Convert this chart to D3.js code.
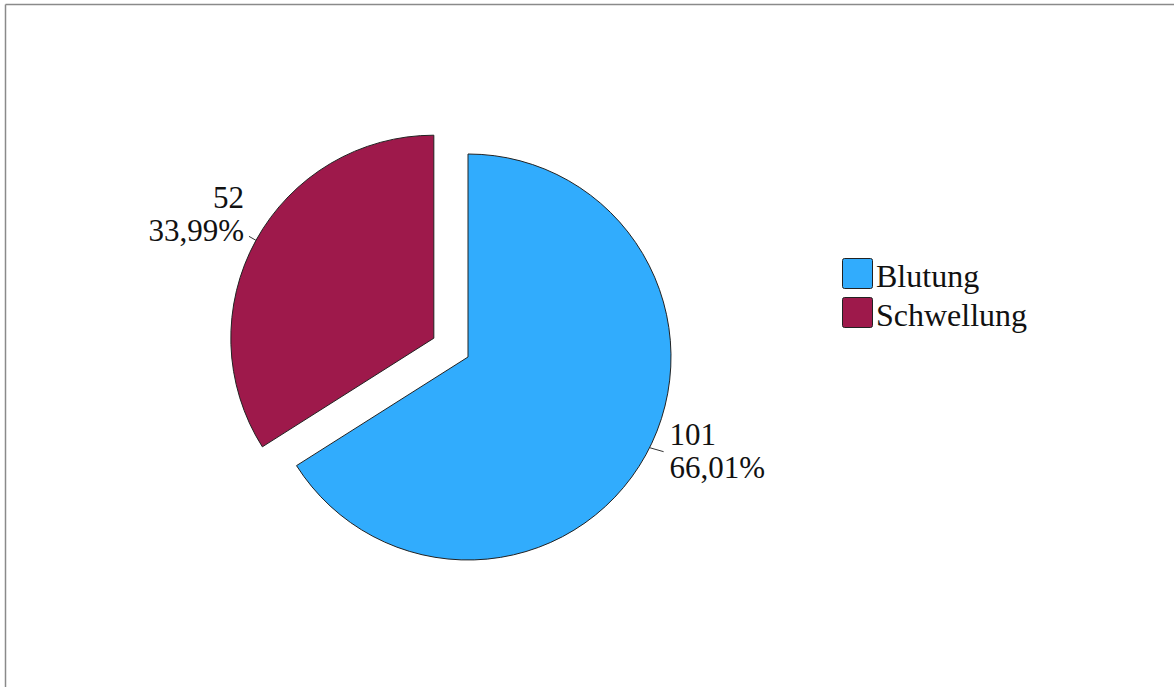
<!DOCTYPE html>
<html>
<head>
<meta charset="utf-8">
<script src="https://cdn.jsdelivr.net/npm/d3@7"></script>
<style>
  html, body { margin: 0; padding: 0; background: #fff; }
  svg { display: block; }
  text { font-family: "Liberation Serif", "Times New Roman", serif; fill: #111; }
</style>
</head>
<body>
<svg id="chart" width="1174" height="687"></svg>
<script>
// Categories and counts
const categories = ["Blutung", "Schwellung"];
const counts = [101, 52];
const percentLabels = ["66,01%", "33,99%"];
const colors = ["#31acfd", "#9e194b"];
// Slice pulled out of the pie
const explodedIndex = 1;

const svg = d3.select("#chart");
const W = 1174, H = 687;

// Frame lines (top and left)
svg.append("line").attr("x1", 5.5).attr("x2", W).attr("y1", 4.5).attr("y2", 4.5)
  .attr("stroke", "#8a8a8a").attr("stroke-width", 1.5);
svg.append("line").attr("x1", 5.5).attr("x2", 5.5).attr("y1", 4.5).attr("y2", H)
  .attr("stroke", "#8a8a8a").attr("stroke-width", 1.5);

const cx = 468, cy = 357, R = 203, explode = 39;
const fontSize = 31;
const lineGap = 33;

const pie = d3.pie().sort(null).value(d => d.value);
const data = categories.map((c, i) => ({ name: c, value: counts[i], pct: percentLabels[i], color: colors[i], idx: i }));
const arcs = pie(data);
const arc = d3.arc().innerRadius(0).outerRadius(R);

const g = svg.append("g");

arcs.forEach(a => {
  const mid = (a.startAngle + a.endAngle) / 2;
  const off = a.data.idx === explodedIndex ? explode : 0;
  const ox = cx + Math.sin(mid) * off, oy = cy - Math.cos(mid) * off;
  const sg = g.append("g").attr("transform", `translate(${ox},${oy})`);
  sg.append("path").attr("d", arc(a))
    .attr("fill", a.data.color)
    .attr("stroke", "#222").attr("stroke-width", 1)
    .attr("stroke-linejoin", "miter");

  // Leader line and value label
  const right = Math.sin(mid) > 0;
  const lAng = right ? mid - 0.04 : mid;
  const p0 = [Math.sin(lAng) * R, -Math.cos(lAng) * R];
  const p1 = [p0[0] + (right ? 14 : -7), p0[1] + (right ? 4 : -4)];
  sg.append("line").attr("x1", p0[0]).attr("y1", p0[1]).attr("x2", p1[0]).attr("y2", p1[1])
    .attr("stroke", "#333").attr("stroke-width", 1);

  const tx = right ? p1[0] + 6 : p1[0] - 5;
  const anchor = right ? "start" : "end";
  const y1 = right ? p1[1] - 7 : p1[1] - 28;
  sg.append("text").attr("x", tx).attr("y", y1).attr("text-anchor", anchor)
    .attr("font-size", fontSize).text(a.data.value);
  sg.append("text").attr("x", tx).attr("y", y1 + lineGap).attr("text-anchor", anchor)
    .attr("font-size", fontSize).text(a.data.pct);
});

// Legend
const lg = svg.append("g").attr("transform", "translate(842,258)");
data.forEach((d, i) => {
  const row = lg.append("g").attr("transform", `translate(0,${i * 39})`);
  row.append("rect").attr("x", 0.5).attr("y", 0.5).attr("width", 30).attr("height", 30)
    .attr("rx", 2).attr("fill", d.color).attr("stroke", "#222").attr("stroke-width", 1);
  row.append("text").attr("x", 34).attr("y", 29).attr("font-size", 32).text(d.name);
});
</script>
</body>
</html>
